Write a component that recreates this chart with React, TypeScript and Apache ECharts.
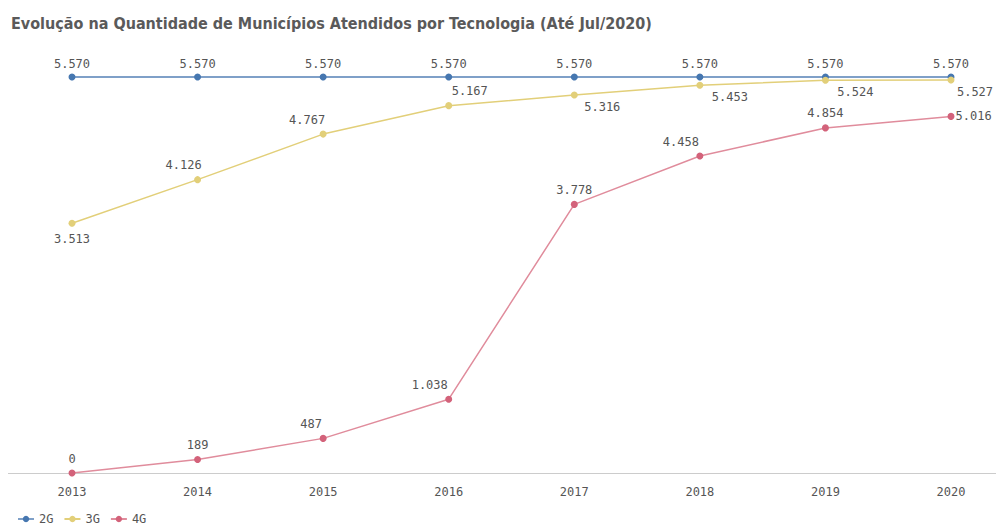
import React, { useEffect, useRef } from "react";
import * as echarts from "echarts";

const years = ["2013", "2014", "2015", "2016", "2017", "2018", "2019", "2020"];
const s2G = [5570, 5570, 5570, 5570, 5570, 5570, 5570, 5570];
const s3G = [3513, 4126, 4767, 5167, 5316, 5453, 5524, 5527];
const s4G = [0, 189, 487, 1038, 3778, 4458, 4854, 5016];
const pos3G = ["bottom", "top", "top", "top", "bottom", "bottom", "bottom", "bottom"];
const off3G = [[0, 1], [-14, 0], [-16, 0], [21, 0], [28, -3], [30, -3], [30, -3], [24, -3]];
const pos4G = ["top", "top", "top", "top", "top", "top", "top", "right"];
const off4G = [[0, 0], [0, 0], [-12, 0], [-19, 0], [0, 0], [-19, 0], [0, 0], [-4, 0]];

const fmt = (v: number) => v.toString().replace(/\B(?=(\d{3})+(?!\d))/g, ".");
const mono = "'DejaVu Sans Mono', monospace";

export default function App() {
  const ref = useRef<HTMLDivElement>(null);
  useEffect(() => {
    const chart = echarts.init(ref.current!, null, { renderer: "svg" });
    const lbl = { show: true, fontFamily: mono, fontSize: 12, color: "#555", formatter: (p: any) => fmt(p.value) };
    chart.setOption({
      animation: false,
      title: {
        text: "Evolução na Quantidade de Municípios Atendidos por Tecnologia (Até Jul/2020)",
        left: 6,
        top: 10,
        textStyle: { fontFamily: "'Liberation Sans Narrow', 'DejaVu Sans Condensed', sans-serif", fontWeight: "bold", fontSize: 16, color: "#5a5a5a" },
      },
      legend: {
        left: 12,
        top: 508,
        itemWidth: 16,
        itemHeight: 8,
        itemGap: 10,
        textStyle: { fontFamily: mono, fontSize: 12, color: "#555" },
        data: ["2G", "3G", "4G"],
      },
      grid: { left: 72, right: 45, top: 77, bottom: 52 },
      xAxis: {
        type: "category",
        data: years,
        boundaryGap: false,
        axisLine: { show: false },
        axisTick: { show: false },
        axisLabel: { fontFamily: mono, fontSize: 12, color: "#555", margin: 13 },
      },
      yAxis: { type: "value", min: 0, max: 5570, show: false, splitLine: { show: false } },
      graphic: [
        { type: "line", shape: { x1: 8, y1: 473.5, x2: 996, y2: 473.5 }, style: { stroke: "#cccccc", lineWidth: 1 }, z: 0 },
      ],
      series: [
        {
          name: "2G", type: "line", data: s2G, color: "#4677b0", symbol: "circle", symbolSize: 7,
          lineStyle: { width: 2, color: "#7fa0c8" }, label: { ...lbl, position: "top", distance: 4 },
        },
        {
          name: "3G", type: "line", data: s3G.map((v, i) => ({ value: v, label: { position: pos3G[i], offset: off3G[i] } })),
          color: "#e2cf79", symbol: "circle", symbolSize: 7,
          lineStyle: { width: 1.5 }, label: { ...lbl, distance: 5 },
        },
        {
          name: "4G", type: "line", data: s4G.map((v, i) => ({ value: v, label: { position: pos4G[i], offset: off4G[i] } })),
          color: "#d3627a", symbol: "circle", symbolSize: 7,
          lineStyle: { width: 1.5, color: "#e08c9c" }, label: { ...lbl, distance: 5 },
        },
      ],
    });
    return () => chart.dispose();
  }, []);
  return <div ref={ref} style={{ position: "absolute", left: 0, top: 0, width: 996, height: 525 }} />;
}
